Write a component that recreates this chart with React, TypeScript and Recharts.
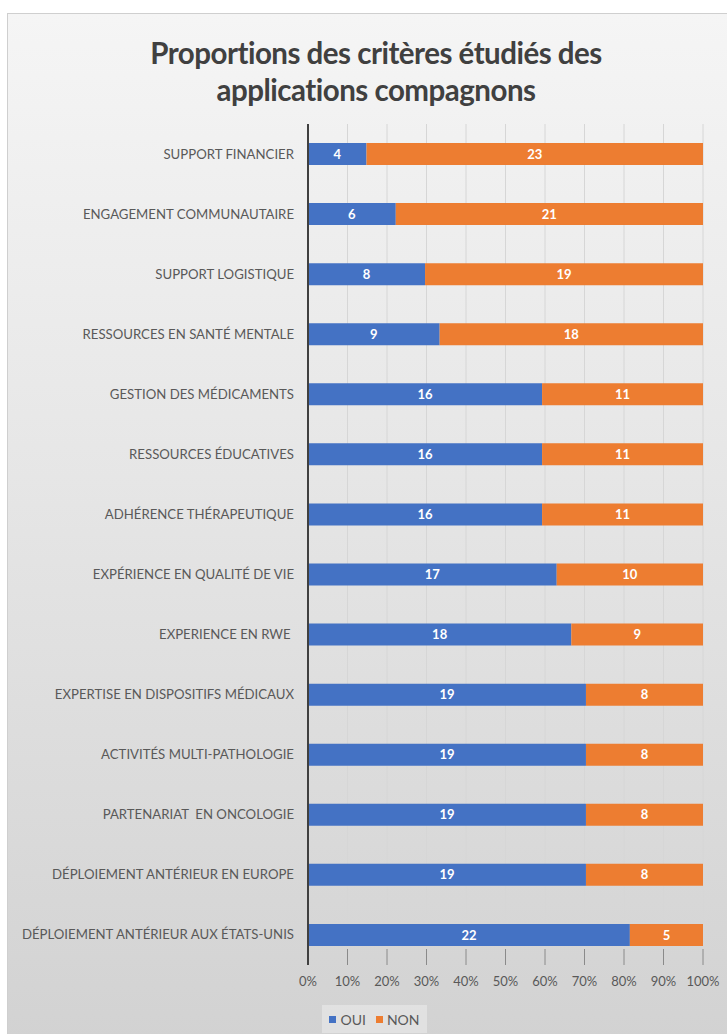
import React from "react";
import { BarChart, Bar, XAxis, YAxis, CartesianGrid, LabelList } from "recharts";

const categories = [
  "SUPPORT FINANCIER",
  "ENGAGEMENT COMMUNAUTAIRE",
  "SUPPORT LOGISTIQUE",
  "RESSOURCES EN SANTÉ MENTALE",
  "GESTION DES MÉDICAMENTS",
  "RESSOURCES ÉDUCATIVES",
  "ADHÉRENCE THÉRAPEUTIQUE",
  "EXPÉRIENCE EN QUALITÉ DE VIE",
  "EXPERIENCE EN RWE ",
  "EXPERTISE EN DISPOSITIFS MÉDICAUX",
  "ACTIVITÉS MULTI-PATHOLOGIE",
  "PARTENARIAT  EN ONCOLOGIE",
  "DÉPLOIEMENT ANTÉRIEUR EN EUROPE",
  "DÉPLOIEMENT ANTÉRIEUR AUX ÉTATS-UNIS",
];
const ouiValues = [4, 6, 8, 9, 16, 16, 16, 17, 18, 19, 19, 19, 19, 22];
const nonValues = [23, 21, 19, 18, 11, 11, 11, 10, 9, 8, 8, 8, 8, 5];
const xTicks = [0, 0.1, 0.2, 0.3, 0.4, 0.5, 0.6, 0.7, 0.8, 0.9, 1];

const data = categories.map((name, i) => ({ name, oui: ouiValues[i], non: nonValues[i] }));

const FONT = "Lato, 'Open Sans', sans-serif";
const BLUE = "#4472C4";
const ORANGE = "#ED7D31";

const YTick = (props: any) => {
  const { x, y, payload } = props;
  return (
    <text
      x={x}
      y={y}
      dy={4.5}
      textAnchor="end"
      fill="#595959"
      fontSize={13.2}
      fontFamily={FONT}
      style={{ whiteSpace: "pre" }}
    >
      {payload.value}
    </text>
  );
};

export default function App() {
  return (
    <div
      style={{
        position: "absolute",
        left: 7,
        top: 13,
        width: 722,
        height: 1030,
        border: "1px solid #cfcfcf",
        boxSizing: "border-box",
        background: "linear-gradient(to bottom, #f5f5f5 0%, #e6e6e6 45%, #d2d2d2 100%)",
        fontFamily: FONT,
        overflow: "hidden",
      }}
    >
      <div
        style={{
          position: "absolute",
          left: 0,
          width: 736,
          top: 20,
          textAlign: "center",
          fontWeight: 700,
          fontSize: 29.5,
          lineHeight: "37px",
          color: "#404040",
          letterSpacing: -0.5,
        }}
      >
        Proportions des critères étudiés des
        <br />
        applications compagnons
      </div>
      <div style={{ position: "absolute", left: 0, top: 0 }}>
        <BarChart
          width={722}
          height={1020}
          data={data}
          layout="vertical"
          stackOffset="expand"
          margin={{ top: 110, right: 27, bottom: 29, left: 0 }}
          barSize={22}
        >
          <CartesianGrid horizontal={false} stroke="#d6d6d6" strokeWidth={1} />
          <XAxis
            type="number"
            domain={[0, 1]}
            ticks={xTicks}
            tickFormatter={(v: number) => `${Math.round(v * 100)}%`}
            axisLine={false}
            tickLine={{ stroke: "#8a8a8a" }}
            tickSize={-16}
            tickMargin={28}
            height={40}
            tick={{ fill: "#595959", fontSize: 13, fontFamily: FONT }}
            interval={0}
          />
          <YAxis
            type="category"
            dataKey="name"
            width={300}
            axisLine={{ stroke: "#404040", strokeWidth: 2 }}
            tickLine={false}
            tickSize={0}
            tickMargin={14}
            interval={0}
            tick={<YTick />}
          />
          <Bar dataKey="oui" stackId="a" fill={BLUE} isAnimationActive={false}>
            <LabelList dataKey="oui" position="center" fill="#ffffff" fontSize={13} fontWeight={700} fontFamily={FONT} />
          </Bar>
          <Bar dataKey="non" stackId="a" fill={ORANGE} isAnimationActive={false}>
            <LabelList dataKey="non" position="center" fill="#ffffff" fontSize={13} fontWeight={700} fontFamily={FONT} />
          </Bar>
        </BarChart>
      </div>
      <div
        style={{
          position: "absolute",
          left: 314,
          top: 991,
          width: 105,
          height: 28,
          background: "rgba(235,235,235,0.6)",
          display: "flex",
          alignItems: "center",
          justifyContent: "center",
          gap: 10,
          fontSize: 14,
          color: "#595959",
        }}
      >
        <span style={{ display: "flex", alignItems: "center", gap: 4 }}>
          <span style={{ width: 7, height: 7, background: BLUE, display: "inline-block" }} />
          OUI
        </span>
        <span style={{ display: "flex", alignItems: "center", gap: 4 }}>
          <span style={{ width: 7, height: 7, background: ORANGE, display: "inline-block" }} />
          NON
        </span>
      </div>
    </div>
  );
}
